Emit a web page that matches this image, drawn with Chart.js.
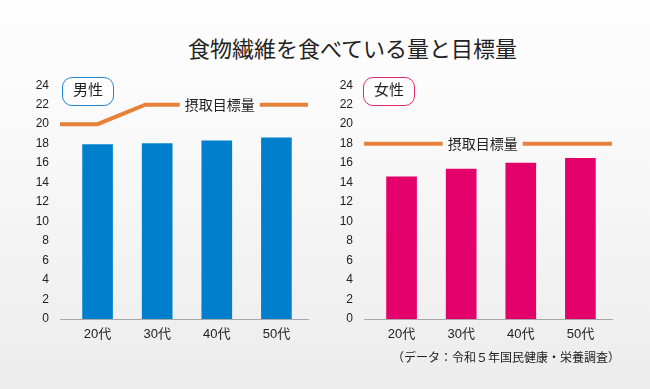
<!DOCTYPE html>
<html lang="ja">
<head>
<meta charset="utf-8">
<script src="https://cdn.jsdelivr.net/npm/chart.js@4"></script>
<style>
  html, body { margin: 0; padding: 0; }
  body {
    width: 650px; height: 389px; position: relative; overflow: hidden;
    background: linear-gradient(#fdfdfd, #fcfcfc 20%, #ececec);
    font-family: "Liberation Sans", "Noto Sans CJK JP", sans-serif;
    color: #222;
  }
  .title {
    position: absolute; left: 0; width: 705px; top: 31px; text-align: center;
    font: 22px "Noto Sans CJK JP", sans-serif; color: #222; letter-spacing: 0;
  }
  .badge {
    position: absolute; top: 77px; width: 50px; height: 27px; line-height: 27px;
    background: #fff; border-radius: 10px; text-align: center;
    font: 15px "Noto Sans CJK JP", sans-serif; color: #222;
  }
  .male { left: 62px; border: 1.5px solid #1f86d1; }
  .female { left: 363px; border: 1.5px solid #e2286f; }
  .chart { position: absolute; top: 67px; width: 320px; height: 282px; }
  .source {
    position: absolute; left: 392px; top: 348px;
    font: 12px "Noto Sans CJK JP", sans-serif; color: #222;
  }
</style>
</head>
<body>
<div class="title">食物繊維を食べている量と目標量</div>
<div class="chart" style="left:0px"><canvas id="maleChart"></canvas></div>
<div class="chart" style="left:304px"><canvas id="femaleChart"></canvas></div>
<div class="badge male">男性</div>
<div class="badge female">女性</div>
<div class="source">（データ：令和５年国民健康・栄養調査）</div>
<script>
const ageGroups = ['20代', '30代', '40代', '50代'];
const yTicks = [0, 2, 4, 6, 8, 10, 12, 14, 16, 18, 20, 22, 24];

const maleIntake = [17.9, 18.0, 18.3, 18.6];
const femaleIntake = [14.6, 15.4, 16.0, 16.5];

// target line, x in category units
const maleTargetX = [-0.63, 0, 0.8, 3.53];
const maleTarget = [20, 20, 22, 22];
const femaleTargetX = [-0.63, 3.53];
const femaleTarget = [18, 18];

const targetLabel = '摂取目標量';
const maleLabelX = 2.05;
const femaleLabelX = 1.36;

const xMin = -0.63, xMax = 3.53;

// label sitting on the target line, with a gap cut out of it
const targetLabelPlugin = {
    id: 'targetLabel',
    afterDatasetsDraw(chart, args, opts) {
        const { ctx, scales } = chart;
        const x = scales.x.getPixelForValue(opts.x);
        const y = scales.y.getPixelForValue(opts.y);
        ctx.save();
        ctx.font = '14px "Noto Sans CJK JP", sans-serif';
        const w = ctx.measureText(targetLabel).width + 10;
        const absY = chart.canvas.getBoundingClientRect().top + y;
        const g = Math.round(253 - 17 * Math.max(0, (absY - 78) / 311));
        ctx.fillStyle = `rgb(${g},${g},${g})`;
        ctx.fillRect(x - w / 2, y - 4, w, 8);
        ctx.fillStyle = '#222';
        ctx.textAlign = 'center';
        ctx.textBaseline = 'middle';
        ctx.fillText(targetLabel, x, y);
        ctx.restore();
    }
};

function makeChart(id, values, color, tx, ty, labelX) {
    const ctx = document.getElementById(id).getContext('2d');
    new Chart(ctx, {
        type: 'bar',
        data: {
            datasets: [
                {
                    type: 'line',
                    data: tx.map((x, i) => ({ x: x, y: ty[i] })),
                    borderColor: '#e8823a',
                    borderWidth: 4,
                    pointRadius: 0,
                    tension: 0,
                    clip: false,
                    order: 0
                },
                {
                    data: values.map((v, i) => ({ x: i, y: v })),
                    backgroundColor: color,
                    barThickness: 30,
                    order: 1
                }
            ]
        },
        options: {
            responsive: true, maintainAspectRatio: false,
            animation: false,
            layout: { padding: { top: 11, right: 12, left: 0, bottom: 0 } },
            plugins: {
                legend: { display: false },
                tooltip: { enabled: false },
                targetLabel: { x: labelX, y: ty[ty.length - 1] }
            },
            scales: {
                x: {
                    type: 'linear',
                    min: xMin, max: xMax,
                    offset: false,
                    grid: { display: false },
                    border: { color: '#a8a8a8', width: 1 },
                    afterBuildTicks: (scale) => { scale.ticks = ageGroups.map((_, i) => ({ value: i })); },
                    afterFit: (scale) => { scale.height = 30; },
                    ticks: {
                        padding: 0,
                        color: '#222',
                        font: { size: 13, family: '"Liberation Sans", "Noto Sans CJK JP", sans-serif' },
                        callback: (v, i) => ageGroups[i]
                    }
                },
                y: {
                    min: 0, max: 24,
                    grid: { display: false, drawTicks: false },
                    border: { display: false },
                    afterBuildTicks: (scale) => { scale.ticks = yTicks.map(v => ({ value: v })); },
                    afterFit: (scale) => { scale.width = 60; },
                    ticks: {
                        padding: 11,
                        color: '#222',
                        font: { size: 12, family: '"Liberation Sans", sans-serif' }
                    }
                }
            }
        },
        plugins: [targetLabelPlugin]
    });
}

makeChart('maleChart', maleIntake, '#0080cc', maleTargetX, maleTarget, maleLabelX);
makeChart('femaleChart', femaleIntake, '#e4006a', femaleTargetX, femaleTarget, femaleLabelX);
</script>
</body>
</html>
